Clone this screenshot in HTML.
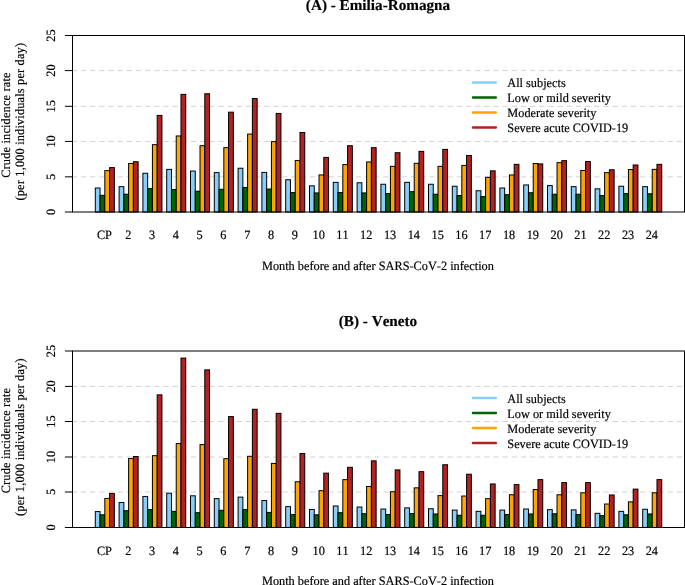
<!DOCTYPE html>
<html><head><meta charset="utf-8"><title>Crude incidence rate</title>
<style>
html,body{margin:0;padding:0;background:#fff;overflow:hidden}
svg{display:block;will-change:transform}
text{font-family:"Liberation Serif",serif;fill:#000;font-kerning:none;text-rendering:geometricPrecision;stroke:#000;stroke-width:0.18px}
</style></head>
<body>
<svg width="685" height="585" viewBox="0 0 685 585">
<rect x="0" y="0" width="685" height="585" fill="#fff"/>
<line x1="71.70" y1="176.85" x2="684.50" y2="176.85" stroke="#d3d3d3" stroke-width="1" stroke-dasharray="5.3 3.867"/>
<line x1="71.70" y1="141.40" x2="684.50" y2="141.40" stroke="#d3d3d3" stroke-width="1" stroke-dasharray="5.3 3.867"/>
<line x1="71.70" y1="106.30" x2="684.50" y2="106.30" stroke="#d3d3d3" stroke-width="1" stroke-dasharray="5.3 3.867"/>
<line x1="71.70" y1="70.60" x2="684.50" y2="70.60" stroke="#d3d3d3" stroke-width="1" stroke-dasharray="5.3 3.867"/>
<rect x="95.30" y="188.00" width="4.76" height="24.00" fill="#87CEFA" stroke="#000" stroke-width="1"/>
<rect x="100.06" y="195.34" width="4.76" height="16.66" fill="#006400" stroke="#000" stroke-width="1"/>
<rect x="104.82" y="170.63" width="4.76" height="41.37" fill="#FFA500" stroke="#000" stroke-width="1"/>
<rect x="109.58" y="167.59" width="4.76" height="44.41" fill="#B22222" stroke="#000" stroke-width="1"/>
<rect x="119.10" y="186.65" width="4.76" height="25.35" fill="#87CEFA" stroke="#000" stroke-width="1"/>
<rect x="123.86" y="194.21" width="4.76" height="17.79" fill="#006400" stroke="#000" stroke-width="1"/>
<rect x="128.62" y="163.50" width="4.76" height="48.50" fill="#FFA500" stroke="#000" stroke-width="1"/>
<rect x="133.38" y="161.73" width="4.76" height="50.27" fill="#B22222" stroke="#000" stroke-width="1"/>
<rect x="142.90" y="173.24" width="4.76" height="38.76" fill="#87CEFA" stroke="#000" stroke-width="1"/>
<rect x="147.66" y="188.63" width="4.76" height="23.37" fill="#006400" stroke="#000" stroke-width="1"/>
<rect x="152.42" y="144.65" width="4.76" height="67.35" fill="#FFA500" stroke="#000" stroke-width="1"/>
<rect x="157.18" y="115.42" width="4.76" height="96.58" fill="#B22222" stroke="#000" stroke-width="1"/>
<rect x="166.70" y="169.36" width="4.76" height="42.64" fill="#87CEFA" stroke="#000" stroke-width="1"/>
<rect x="171.46" y="189.48" width="4.76" height="22.52" fill="#006400" stroke="#000" stroke-width="1"/>
<rect x="176.22" y="135.96" width="4.76" height="76.04" fill="#FFA500" stroke="#000" stroke-width="1"/>
<rect x="180.98" y="94.38" width="4.76" height="117.62" fill="#B22222" stroke="#000" stroke-width="1"/>
<rect x="190.50" y="171.05" width="4.76" height="40.95" fill="#87CEFA" stroke="#000" stroke-width="1"/>
<rect x="195.26" y="191.24" width="4.76" height="20.76" fill="#006400" stroke="#000" stroke-width="1"/>
<rect x="200.02" y="145.71" width="4.76" height="66.29" fill="#FFA500" stroke="#000" stroke-width="1"/>
<rect x="204.78" y="93.75" width="4.76" height="118.25" fill="#B22222" stroke="#000" stroke-width="1"/>
<rect x="214.30" y="172.61" width="4.76" height="39.39" fill="#87CEFA" stroke="#000" stroke-width="1"/>
<rect x="219.06" y="189.27" width="4.76" height="22.73" fill="#006400" stroke="#000" stroke-width="1"/>
<rect x="223.82" y="147.68" width="4.76" height="64.32" fill="#FFA500" stroke="#000" stroke-width="1"/>
<rect x="228.58" y="112.17" width="4.76" height="99.83" fill="#B22222" stroke="#000" stroke-width="1"/>
<rect x="238.10" y="168.23" width="4.76" height="43.77" fill="#87CEFA" stroke="#000" stroke-width="1"/>
<rect x="242.86" y="187.50" width="4.76" height="24.50" fill="#006400" stroke="#000" stroke-width="1"/>
<rect x="247.62" y="134.06" width="4.76" height="77.94" fill="#FFA500" stroke="#000" stroke-width="1"/>
<rect x="252.38" y="98.55" width="4.76" height="113.45" fill="#B22222" stroke="#000" stroke-width="1"/>
<rect x="261.90" y="172.39" width="4.76" height="39.61" fill="#87CEFA" stroke="#000" stroke-width="1"/>
<rect x="266.66" y="189.06" width="4.76" height="22.95" fill="#006400" stroke="#000" stroke-width="1"/>
<rect x="271.42" y="141.61" width="4.76" height="70.39" fill="#FFA500" stroke="#000" stroke-width="1"/>
<rect x="276.18" y="113.44" width="4.76" height="98.56" fill="#B22222" stroke="#000" stroke-width="1"/>
<rect x="285.70" y="179.74" width="4.76" height="32.26" fill="#87CEFA" stroke="#000" stroke-width="1"/>
<rect x="290.46" y="192.51" width="4.76" height="19.49" fill="#006400" stroke="#000" stroke-width="1"/>
<rect x="295.22" y="160.46" width="4.76" height="51.54" fill="#FFA500" stroke="#000" stroke-width="1"/>
<rect x="299.98" y="132.50" width="4.76" height="79.50" fill="#B22222" stroke="#000" stroke-width="1"/>
<rect x="309.50" y="185.81" width="4.76" height="26.19" fill="#87CEFA" stroke="#000" stroke-width="1"/>
<rect x="314.26" y="192.94" width="4.76" height="19.06" fill="#006400" stroke="#000" stroke-width="1"/>
<rect x="319.02" y="174.94" width="4.76" height="37.06" fill="#FFA500" stroke="#000" stroke-width="1"/>
<rect x="323.78" y="157.43" width="4.76" height="54.57" fill="#B22222" stroke="#000" stroke-width="1"/>
<rect x="333.30" y="182.35" width="4.76" height="29.65" fill="#87CEFA" stroke="#000" stroke-width="1"/>
<rect x="338.06" y="192.51" width="4.76" height="19.49" fill="#006400" stroke="#000" stroke-width="1"/>
<rect x="342.82" y="164.56" width="4.76" height="47.44" fill="#FFA500" stroke="#000" stroke-width="1"/>
<rect x="347.58" y="145.71" width="4.76" height="66.29" fill="#B22222" stroke="#000" stroke-width="1"/>
<rect x="357.10" y="182.77" width="4.76" height="29.23" fill="#87CEFA" stroke="#000" stroke-width="1"/>
<rect x="361.86" y="192.94" width="4.76" height="19.06" fill="#006400" stroke="#000" stroke-width="1"/>
<rect x="366.62" y="161.94" width="4.76" height="50.06" fill="#FFA500" stroke="#000" stroke-width="1"/>
<rect x="371.38" y="147.68" width="4.76" height="64.32" fill="#B22222" stroke="#000" stroke-width="1"/>
<rect x="380.90" y="184.25" width="4.76" height="27.75" fill="#87CEFA" stroke="#000" stroke-width="1"/>
<rect x="385.66" y="193.57" width="4.76" height="18.43" fill="#006400" stroke="#000" stroke-width="1"/>
<rect x="390.42" y="166.32" width="4.76" height="45.68" fill="#FFA500" stroke="#000" stroke-width="1"/>
<rect x="395.18" y="152.70" width="4.76" height="59.30" fill="#B22222" stroke="#000" stroke-width="1"/>
<rect x="404.70" y="182.35" width="4.76" height="29.65" fill="#87CEFA" stroke="#000" stroke-width="1"/>
<rect x="409.46" y="191.67" width="4.76" height="20.33" fill="#006400" stroke="#000" stroke-width="1"/>
<rect x="414.22" y="163.29" width="4.76" height="48.71" fill="#FFA500" stroke="#000" stroke-width="1"/>
<rect x="418.98" y="151.35" width="4.76" height="60.65" fill="#B22222" stroke="#000" stroke-width="1"/>
<rect x="428.50" y="184.25" width="4.76" height="27.75" fill="#87CEFA" stroke="#000" stroke-width="1"/>
<rect x="433.26" y="194.21" width="4.76" height="17.79" fill="#006400" stroke="#000" stroke-width="1"/>
<rect x="438.02" y="166.32" width="4.76" height="45.68" fill="#FFA500" stroke="#000" stroke-width="1"/>
<rect x="442.78" y="149.38" width="4.76" height="62.62" fill="#B22222" stroke="#000" stroke-width="1"/>
<rect x="452.30" y="186.23" width="4.76" height="25.77" fill="#87CEFA" stroke="#000" stroke-width="1"/>
<rect x="457.06" y="195.55" width="4.76" height="16.45" fill="#006400" stroke="#000" stroke-width="1"/>
<rect x="461.82" y="165.40" width="4.76" height="46.60" fill="#FFA500" stroke="#000" stroke-width="1"/>
<rect x="466.58" y="155.45" width="4.76" height="56.55" fill="#B22222" stroke="#000" stroke-width="1"/>
<rect x="476.10" y="190.75" width="4.76" height="21.25" fill="#87CEFA" stroke="#000" stroke-width="1"/>
<rect x="480.86" y="196.61" width="4.76" height="15.39" fill="#006400" stroke="#000" stroke-width="1"/>
<rect x="485.62" y="177.34" width="4.76" height="34.66" fill="#FFA500" stroke="#000" stroke-width="1"/>
<rect x="490.38" y="170.84" width="4.76" height="41.16" fill="#B22222" stroke="#000" stroke-width="1"/>
<rect x="499.90" y="188.00" width="4.76" height="24.00" fill="#87CEFA" stroke="#000" stroke-width="1"/>
<rect x="504.66" y="194.70" width="4.76" height="17.30" fill="#006400" stroke="#000" stroke-width="1"/>
<rect x="509.42" y="174.94" width="4.76" height="37.06" fill="#FFA500" stroke="#000" stroke-width="1"/>
<rect x="514.18" y="164.34" width="4.76" height="47.65" fill="#B22222" stroke="#000" stroke-width="1"/>
<rect x="523.70" y="184.96" width="4.76" height="27.04" fill="#87CEFA" stroke="#000" stroke-width="1"/>
<rect x="528.46" y="192.73" width="4.76" height="19.27" fill="#006400" stroke="#000" stroke-width="1"/>
<rect x="533.22" y="163.50" width="4.76" height="48.50" fill="#FFA500" stroke="#000" stroke-width="1"/>
<rect x="537.98" y="163.92" width="4.76" height="48.08" fill="#B22222" stroke="#000" stroke-width="1"/>
<rect x="547.50" y="185.60" width="4.76" height="26.40" fill="#87CEFA" stroke="#000" stroke-width="1"/>
<rect x="552.26" y="194.21" width="4.76" height="17.79" fill="#006400" stroke="#000" stroke-width="1"/>
<rect x="557.02" y="162.65" width="4.76" height="49.35" fill="#FFA500" stroke="#000" stroke-width="1"/>
<rect x="561.78" y="160.67" width="4.76" height="51.33" fill="#B22222" stroke="#000" stroke-width="1"/>
<rect x="571.30" y="186.65" width="4.76" height="25.35" fill="#87CEFA" stroke="#000" stroke-width="1"/>
<rect x="576.06" y="194.21" width="4.76" height="17.79" fill="#006400" stroke="#000" stroke-width="1"/>
<rect x="580.82" y="170.42" width="4.76" height="41.58" fill="#FFA500" stroke="#000" stroke-width="1"/>
<rect x="585.58" y="161.52" width="4.76" height="50.48" fill="#B22222" stroke="#000" stroke-width="1"/>
<rect x="595.10" y="188.84" width="4.76" height="23.16" fill="#87CEFA" stroke="#000" stroke-width="1"/>
<rect x="599.86" y="195.55" width="4.76" height="16.45" fill="#006400" stroke="#000" stroke-width="1"/>
<rect x="604.62" y="172.61" width="4.76" height="39.39" fill="#FFA500" stroke="#000" stroke-width="1"/>
<rect x="609.38" y="169.78" width="4.76" height="42.22" fill="#B22222" stroke="#000" stroke-width="1"/>
<rect x="618.90" y="186.23" width="4.76" height="25.77" fill="#87CEFA" stroke="#000" stroke-width="1"/>
<rect x="623.66" y="193.57" width="4.76" height="18.43" fill="#006400" stroke="#000" stroke-width="1"/>
<rect x="628.42" y="169.57" width="4.76" height="42.43" fill="#FFA500" stroke="#000" stroke-width="1"/>
<rect x="633.18" y="164.98" width="4.76" height="47.02" fill="#B22222" stroke="#000" stroke-width="1"/>
<rect x="642.70" y="186.65" width="4.76" height="25.35" fill="#87CEFA" stroke="#000" stroke-width="1"/>
<rect x="647.46" y="193.79" width="4.76" height="18.21" fill="#006400" stroke="#000" stroke-width="1"/>
<rect x="652.22" y="169.36" width="4.76" height="42.64" fill="#FFA500" stroke="#000" stroke-width="1"/>
<rect x="656.98" y="164.34" width="4.76" height="47.65" fill="#B22222" stroke="#000" stroke-width="1"/>
<rect x="72.50" y="35.50" width="612.00" height="176.50" fill="none" stroke="#000" stroke-width="1"/>
<line x1="64.90" y1="212.00" x2="72.50" y2="212.00" stroke="#000" stroke-width="1"/>
<text transform="translate(55.0,212.00) rotate(-90) scale(1,1.035)" text-anchor="middle" font-size="12.3">0</text>
<line x1="64.90" y1="176.85" x2="72.50" y2="176.85" stroke="#000" stroke-width="1"/>
<text transform="translate(55.0,176.85) rotate(-90) scale(1,1.035)" text-anchor="middle" font-size="12.3">5</text>
<line x1="64.90" y1="141.40" x2="72.50" y2="141.40" stroke="#000" stroke-width="1"/>
<text transform="translate(55.0,141.40) rotate(-90) scale(1,1.035)" text-anchor="middle" font-size="12.3">10</text>
<line x1="64.90" y1="106.30" x2="72.50" y2="106.30" stroke="#000" stroke-width="1"/>
<text transform="translate(55.0,106.30) rotate(-90) scale(1,1.035)" text-anchor="middle" font-size="12.3">15</text>
<line x1="64.90" y1="70.60" x2="72.50" y2="70.60" stroke="#000" stroke-width="1"/>
<text transform="translate(55.0,70.60) rotate(-90) scale(1,1.035)" text-anchor="middle" font-size="12.3">20</text>
<line x1="64.90" y1="35.50" x2="72.50" y2="35.50" stroke="#000" stroke-width="1"/>
<text transform="translate(55.0,35.50) rotate(-90) scale(1,1.035)" text-anchor="middle" font-size="12.3">25</text>
<text transform="translate(104.42,239.30) scale(1,1.035)" text-anchor="middle" font-size="12.3">CP</text>
<text transform="translate(128.22,239.30) scale(1,1.035)" text-anchor="middle" font-size="12.3">2</text>
<text transform="translate(152.02,239.30) scale(1,1.035)" text-anchor="middle" font-size="12.3">3</text>
<text transform="translate(175.82,239.30) scale(1,1.035)" text-anchor="middle" font-size="12.3">4</text>
<text transform="translate(199.62,239.30) scale(1,1.035)" text-anchor="middle" font-size="12.3">5</text>
<text transform="translate(223.42,239.30) scale(1,1.035)" text-anchor="middle" font-size="12.3">6</text>
<text transform="translate(247.22,239.30) scale(1,1.035)" text-anchor="middle" font-size="12.3">7</text>
<text transform="translate(271.02,239.30) scale(1,1.035)" text-anchor="middle" font-size="12.3">8</text>
<text transform="translate(294.82,239.30) scale(1,1.035)" text-anchor="middle" font-size="12.3">9</text>
<text transform="translate(318.62,239.30) scale(1,1.035)" text-anchor="middle" font-size="12.3">10</text>
<text transform="translate(342.42,239.30) scale(1,1.035)" text-anchor="middle" font-size="12.3">11</text>
<text transform="translate(366.22,239.30) scale(1,1.035)" text-anchor="middle" font-size="12.3">12</text>
<text transform="translate(390.02,239.30) scale(1,1.035)" text-anchor="middle" font-size="12.3">13</text>
<text transform="translate(413.82,239.30) scale(1,1.035)" text-anchor="middle" font-size="12.3">14</text>
<text transform="translate(437.62,239.30) scale(1,1.035)" text-anchor="middle" font-size="12.3">15</text>
<text transform="translate(461.42,239.30) scale(1,1.035)" text-anchor="middle" font-size="12.3">16</text>
<text transform="translate(485.22,239.30) scale(1,1.035)" text-anchor="middle" font-size="12.3">17</text>
<text transform="translate(509.02,239.30) scale(1,1.035)" text-anchor="middle" font-size="12.3">18</text>
<text transform="translate(532.82,239.30) scale(1,1.035)" text-anchor="middle" font-size="12.3">19</text>
<text transform="translate(556.62,239.30) scale(1,1.035)" text-anchor="middle" font-size="12.3">20</text>
<text transform="translate(580.42,239.30) scale(1,1.035)" text-anchor="middle" font-size="12.3">21</text>
<text transform="translate(604.22,239.30) scale(1,1.035)" text-anchor="middle" font-size="12.3">22</text>
<text transform="translate(628.02,239.30) scale(1,1.035)" text-anchor="middle" font-size="12.3">23</text>
<text transform="translate(651.82,239.30) scale(1,1.035)" text-anchor="middle" font-size="12.3">24</text>
<text transform="translate(377.90,269.90) scale(1,1.035)" text-anchor="middle" font-size="12.3">Month before and after SARS-CoV-2 infection</text>
<text transform="translate(9.9,125.15) rotate(-90) scale(1,1.035)" text-anchor="middle" font-size="12.3" textLength="105.4" lengthAdjust="spacing">Crude incidence rate</text>
<text transform="translate(24.1,121.75) rotate(-90) scale(1,1.035)" text-anchor="middle" font-size="12.3" textLength="157.5" lengthAdjust="spacing">(per 1,000 individuals per day)</text>
<text x="378.00" y="10.10" text-anchor="middle" font-size="15.2" font-weight="bold">(A) - Emilia-Romagna</text>
<line x1="473.0" y1="82.40" x2="495.8" y2="82.40" stroke="#87CEFA" stroke-width="2.5" stroke-linecap="round"/>
<text transform="translate(507.3,87.00) scale(1,1.035)" font-size="12.3">All subjects</text>
<line x1="473.0" y1="97.40" x2="495.8" y2="97.40" stroke="#006400" stroke-width="2.5" stroke-linecap="round"/>
<text transform="translate(507.3,102.00) scale(1,1.035)" font-size="12.3">Low or mild severity</text>
<line x1="473.0" y1="112.40" x2="495.8" y2="112.40" stroke="#FFA500" stroke-width="2.5" stroke-linecap="round"/>
<text transform="translate(507.3,117.00) scale(1,1.035)" font-size="12.3">Moderate severity</text>
<line x1="473.0" y1="127.40" x2="495.8" y2="127.40" stroke="#B22222" stroke-width="2.5" stroke-linecap="round"/>
<text transform="translate(507.3,132.00) scale(1,1.035)" font-size="12.3">Severe acute COVID-19</text>
<line x1="71.70" y1="492.00" x2="684.50" y2="492.00" stroke="#d3d3d3" stroke-width="1" stroke-dasharray="5.3 3.867"/>
<line x1="71.70" y1="457.00" x2="684.50" y2="457.00" stroke="#d3d3d3" stroke-width="1" stroke-dasharray="5.3 3.867"/>
<line x1="71.70" y1="421.50" x2="684.50" y2="421.50" stroke="#d3d3d3" stroke-width="1" stroke-dasharray="5.3 3.867"/>
<line x1="71.70" y1="386.40" x2="684.50" y2="386.40" stroke="#d3d3d3" stroke-width="1" stroke-dasharray="5.3 3.867"/>
<rect x="95.30" y="511.57" width="4.76" height="15.88" fill="#87CEFA" stroke="#000" stroke-width="1"/>
<rect x="100.06" y="514.81" width="4.76" height="12.64" fill="#006400" stroke="#000" stroke-width="1"/>
<rect x="104.82" y="498.43" width="4.76" height="29.02" fill="#FFA500" stroke="#000" stroke-width="1"/>
<rect x="109.58" y="493.42" width="4.76" height="34.03" fill="#B22222" stroke="#000" stroke-width="1"/>
<rect x="119.10" y="502.53" width="4.76" height="24.92" fill="#87CEFA" stroke="#000" stroke-width="1"/>
<rect x="123.86" y="510.72" width="4.76" height="16.73" fill="#006400" stroke="#000" stroke-width="1"/>
<rect x="128.62" y="458.47" width="4.76" height="68.98" fill="#FFA500" stroke="#000" stroke-width="1"/>
<rect x="133.38" y="456.50" width="4.76" height="70.95" fill="#B22222" stroke="#000" stroke-width="1"/>
<rect x="142.90" y="496.46" width="4.76" height="30.99" fill="#87CEFA" stroke="#000" stroke-width="1"/>
<rect x="147.66" y="509.66" width="4.76" height="17.79" fill="#006400" stroke="#000" stroke-width="1"/>
<rect x="152.42" y="455.65" width="4.76" height="71.80" fill="#FFA500" stroke="#000" stroke-width="1"/>
<rect x="157.18" y="394.86" width="4.76" height="132.59" fill="#B22222" stroke="#000" stroke-width="1"/>
<rect x="166.70" y="493.21" width="4.76" height="34.24" fill="#87CEFA" stroke="#000" stroke-width="1"/>
<rect x="171.46" y="511.35" width="4.76" height="16.10" fill="#006400" stroke="#000" stroke-width="1"/>
<rect x="176.22" y="443.58" width="4.76" height="83.87" fill="#FFA500" stroke="#000" stroke-width="1"/>
<rect x="180.98" y="358.08" width="4.76" height="169.37" fill="#B22222" stroke="#000" stroke-width="1"/>
<rect x="190.50" y="495.82" width="4.76" height="31.63" fill="#87CEFA" stroke="#000" stroke-width="1"/>
<rect x="195.26" y="512.69" width="4.76" height="14.76" fill="#006400" stroke="#000" stroke-width="1"/>
<rect x="200.02" y="444.64" width="4.76" height="82.81" fill="#FFA500" stroke="#000" stroke-width="1"/>
<rect x="204.78" y="369.87" width="4.76" height="157.58" fill="#B22222" stroke="#000" stroke-width="1"/>
<rect x="214.30" y="498.65" width="4.76" height="28.80" fill="#87CEFA" stroke="#000" stroke-width="1"/>
<rect x="219.06" y="510.29" width="4.76" height="17.16" fill="#006400" stroke="#000" stroke-width="1"/>
<rect x="223.82" y="458.69" width="4.76" height="68.76" fill="#FFA500" stroke="#000" stroke-width="1"/>
<rect x="228.58" y="416.61" width="4.76" height="110.84" fill="#B22222" stroke="#000" stroke-width="1"/>
<rect x="238.10" y="497.09" width="4.76" height="30.36" fill="#87CEFA" stroke="#000" stroke-width="1"/>
<rect x="242.86" y="509.66" width="4.76" height="17.79" fill="#006400" stroke="#000" stroke-width="1"/>
<rect x="247.62" y="456.29" width="4.76" height="71.16" fill="#FFA500" stroke="#000" stroke-width="1"/>
<rect x="252.38" y="409.27" width="4.76" height="118.18" fill="#B22222" stroke="#000" stroke-width="1"/>
<rect x="261.90" y="500.55" width="4.76" height="26.90" fill="#87CEFA" stroke="#000" stroke-width="1"/>
<rect x="266.66" y="512.41" width="4.76" height="15.04" fill="#006400" stroke="#000" stroke-width="1"/>
<rect x="271.42" y="463.42" width="4.76" height="64.03" fill="#FFA500" stroke="#000" stroke-width="1"/>
<rect x="276.18" y="413.36" width="4.76" height="114.09" fill="#B22222" stroke="#000" stroke-width="1"/>
<rect x="285.70" y="506.62" width="4.76" height="20.83" fill="#87CEFA" stroke="#000" stroke-width="1"/>
<rect x="290.46" y="514.60" width="4.76" height="12.85" fill="#006400" stroke="#000" stroke-width="1"/>
<rect x="295.22" y="481.77" width="4.76" height="45.68" fill="#FFA500" stroke="#000" stroke-width="1"/>
<rect x="299.98" y="453.53" width="4.76" height="73.92" fill="#B22222" stroke="#000" stroke-width="1"/>
<rect x="309.50" y="509.45" width="4.76" height="18.00" fill="#87CEFA" stroke="#000" stroke-width="1"/>
<rect x="314.26" y="514.81" width="4.76" height="12.64" fill="#006400" stroke="#000" stroke-width="1"/>
<rect x="319.02" y="490.67" width="4.76" height="36.78" fill="#FFA500" stroke="#000" stroke-width="1"/>
<rect x="323.78" y="473.16" width="4.76" height="54.29" fill="#B22222" stroke="#000" stroke-width="1"/>
<rect x="333.30" y="505.99" width="4.76" height="21.46" fill="#87CEFA" stroke="#000" stroke-width="1"/>
<rect x="338.06" y="512.69" width="4.76" height="14.76" fill="#006400" stroke="#000" stroke-width="1"/>
<rect x="342.82" y="479.65" width="4.76" height="47.80" fill="#FFA500" stroke="#000" stroke-width="1"/>
<rect x="347.58" y="467.30" width="4.76" height="60.15" fill="#B22222" stroke="#000" stroke-width="1"/>
<rect x="357.10" y="507.05" width="4.76" height="20.40" fill="#87CEFA" stroke="#000" stroke-width="1"/>
<rect x="361.86" y="513.75" width="4.76" height="13.70" fill="#006400" stroke="#000" stroke-width="1"/>
<rect x="366.62" y="486.50" width="4.76" height="40.95" fill="#FFA500" stroke="#000" stroke-width="1"/>
<rect x="371.38" y="460.87" width="4.76" height="66.58" fill="#B22222" stroke="#000" stroke-width="1"/>
<rect x="380.90" y="509.02" width="4.76" height="18.43" fill="#87CEFA" stroke="#000" stroke-width="1"/>
<rect x="385.66" y="514.60" width="4.76" height="12.85" fill="#006400" stroke="#000" stroke-width="1"/>
<rect x="390.42" y="491.73" width="4.76" height="35.72" fill="#FFA500" stroke="#000" stroke-width="1"/>
<rect x="395.18" y="469.91" width="4.76" height="57.54" fill="#B22222" stroke="#000" stroke-width="1"/>
<rect x="404.70" y="507.89" width="4.76" height="19.56" fill="#87CEFA" stroke="#000" stroke-width="1"/>
<rect x="409.46" y="513.54" width="4.76" height="13.91" fill="#006400" stroke="#000" stroke-width="1"/>
<rect x="414.22" y="487.84" width="4.76" height="39.61" fill="#FFA500" stroke="#000" stroke-width="1"/>
<rect x="418.98" y="471.68" width="4.76" height="55.77" fill="#B22222" stroke="#000" stroke-width="1"/>
<rect x="428.50" y="508.74" width="4.76" height="18.71" fill="#87CEFA" stroke="#000" stroke-width="1"/>
<rect x="433.26" y="513.97" width="4.76" height="13.48" fill="#006400" stroke="#000" stroke-width="1"/>
<rect x="438.02" y="495.61" width="4.76" height="31.84" fill="#FFA500" stroke="#000" stroke-width="1"/>
<rect x="442.78" y="464.76" width="4.76" height="62.69" fill="#B22222" stroke="#000" stroke-width="1"/>
<rect x="452.30" y="510.08" width="4.76" height="17.37" fill="#87CEFA" stroke="#000" stroke-width="1"/>
<rect x="457.06" y="515.24" width="4.76" height="12.21" fill="#006400" stroke="#000" stroke-width="1"/>
<rect x="461.82" y="496.03" width="4.76" height="31.42" fill="#FFA500" stroke="#000" stroke-width="1"/>
<rect x="466.58" y="474.22" width="4.76" height="53.23" fill="#B22222" stroke="#000" stroke-width="1"/>
<rect x="476.10" y="511.35" width="4.76" height="16.10" fill="#87CEFA" stroke="#000" stroke-width="1"/>
<rect x="480.86" y="515.24" width="4.76" height="12.21" fill="#006400" stroke="#000" stroke-width="1"/>
<rect x="485.62" y="498.65" width="4.76" height="28.80" fill="#FFA500" stroke="#000" stroke-width="1"/>
<rect x="490.38" y="483.96" width="4.76" height="43.49" fill="#B22222" stroke="#000" stroke-width="1"/>
<rect x="499.90" y="510.08" width="4.76" height="17.37" fill="#87CEFA" stroke="#000" stroke-width="1"/>
<rect x="504.66" y="514.60" width="4.76" height="12.85" fill="#006400" stroke="#000" stroke-width="1"/>
<rect x="509.42" y="494.76" width="4.76" height="32.69" fill="#FFA500" stroke="#000" stroke-width="1"/>
<rect x="514.18" y="484.60" width="4.76" height="42.85" fill="#B22222" stroke="#000" stroke-width="1"/>
<rect x="523.70" y="509.02" width="4.76" height="18.43" fill="#87CEFA" stroke="#000" stroke-width="1"/>
<rect x="528.46" y="513.97" width="4.76" height="13.48" fill="#006400" stroke="#000" stroke-width="1"/>
<rect x="533.22" y="489.54" width="4.76" height="37.91" fill="#FFA500" stroke="#000" stroke-width="1"/>
<rect x="537.98" y="479.65" width="4.76" height="47.80" fill="#B22222" stroke="#000" stroke-width="1"/>
<rect x="547.50" y="509.66" width="4.76" height="17.79" fill="#87CEFA" stroke="#000" stroke-width="1"/>
<rect x="552.26" y="513.75" width="4.76" height="13.70" fill="#006400" stroke="#000" stroke-width="1"/>
<rect x="557.02" y="494.76" width="4.76" height="32.69" fill="#FFA500" stroke="#000" stroke-width="1"/>
<rect x="561.78" y="482.62" width="4.76" height="44.83" fill="#B22222" stroke="#000" stroke-width="1"/>
<rect x="571.30" y="509.87" width="4.76" height="17.58" fill="#87CEFA" stroke="#000" stroke-width="1"/>
<rect x="576.06" y="514.60" width="4.76" height="12.85" fill="#006400" stroke="#000" stroke-width="1"/>
<rect x="580.82" y="492.79" width="4.76" height="34.66" fill="#FFA500" stroke="#000" stroke-width="1"/>
<rect x="585.58" y="482.62" width="4.76" height="44.83" fill="#B22222" stroke="#000" stroke-width="1"/>
<rect x="595.10" y="513.33" width="4.76" height="14.12" fill="#87CEFA" stroke="#000" stroke-width="1"/>
<rect x="599.86" y="515.66" width="4.76" height="11.79" fill="#006400" stroke="#000" stroke-width="1"/>
<rect x="604.62" y="504.01" width="4.76" height="23.44" fill="#FFA500" stroke="#000" stroke-width="1"/>
<rect x="609.38" y="494.97" width="4.76" height="32.48" fill="#B22222" stroke="#000" stroke-width="1"/>
<rect x="618.90" y="511.35" width="4.76" height="16.10" fill="#87CEFA" stroke="#000" stroke-width="1"/>
<rect x="623.66" y="514.81" width="4.76" height="12.64" fill="#006400" stroke="#000" stroke-width="1"/>
<rect x="628.42" y="501.89" width="4.76" height="25.56" fill="#FFA500" stroke="#000" stroke-width="1"/>
<rect x="633.18" y="489.11" width="4.76" height="38.34" fill="#B22222" stroke="#000" stroke-width="1"/>
<rect x="642.70" y="509.24" width="4.76" height="18.21" fill="#87CEFA" stroke="#000" stroke-width="1"/>
<rect x="647.46" y="513.97" width="4.76" height="13.48" fill="#006400" stroke="#000" stroke-width="1"/>
<rect x="652.22" y="492.79" width="4.76" height="34.66" fill="#FFA500" stroke="#000" stroke-width="1"/>
<rect x="656.98" y="479.65" width="4.76" height="47.80" fill="#B22222" stroke="#000" stroke-width="1"/>
<rect x="72.50" y="351.00" width="612.00" height="176.50" fill="none" stroke="#000" stroke-width="1"/>
<line x1="64.90" y1="527.50" x2="72.50" y2="527.50" stroke="#000" stroke-width="1"/>
<text transform="translate(55.0,527.50) rotate(-90) scale(1,1.035)" text-anchor="middle" font-size="12.3">0</text>
<line x1="64.90" y1="492.00" x2="72.50" y2="492.00" stroke="#000" stroke-width="1"/>
<text transform="translate(55.0,492.00) rotate(-90) scale(1,1.035)" text-anchor="middle" font-size="12.3">5</text>
<line x1="64.90" y1="457.00" x2="72.50" y2="457.00" stroke="#000" stroke-width="1"/>
<text transform="translate(55.0,457.00) rotate(-90) scale(1,1.035)" text-anchor="middle" font-size="12.3">10</text>
<line x1="64.90" y1="421.50" x2="72.50" y2="421.50" stroke="#000" stroke-width="1"/>
<text transform="translate(55.0,421.50) rotate(-90) scale(1,1.035)" text-anchor="middle" font-size="12.3">15</text>
<line x1="64.90" y1="386.40" x2="72.50" y2="386.40" stroke="#000" stroke-width="1"/>
<text transform="translate(55.0,386.40) rotate(-90) scale(1,1.035)" text-anchor="middle" font-size="12.3">20</text>
<line x1="64.90" y1="351.00" x2="72.50" y2="351.00" stroke="#000" stroke-width="1"/>
<text transform="translate(55.0,351.00) rotate(-90) scale(1,1.035)" text-anchor="middle" font-size="12.3">25</text>
<text transform="translate(104.42,554.75) scale(1,1.035)" text-anchor="middle" font-size="12.3">CP</text>
<text transform="translate(128.22,554.75) scale(1,1.035)" text-anchor="middle" font-size="12.3">2</text>
<text transform="translate(152.02,554.75) scale(1,1.035)" text-anchor="middle" font-size="12.3">3</text>
<text transform="translate(175.82,554.75) scale(1,1.035)" text-anchor="middle" font-size="12.3">4</text>
<text transform="translate(199.62,554.75) scale(1,1.035)" text-anchor="middle" font-size="12.3">5</text>
<text transform="translate(223.42,554.75) scale(1,1.035)" text-anchor="middle" font-size="12.3">6</text>
<text transform="translate(247.22,554.75) scale(1,1.035)" text-anchor="middle" font-size="12.3">7</text>
<text transform="translate(271.02,554.75) scale(1,1.035)" text-anchor="middle" font-size="12.3">8</text>
<text transform="translate(294.82,554.75) scale(1,1.035)" text-anchor="middle" font-size="12.3">9</text>
<text transform="translate(318.62,554.75) scale(1,1.035)" text-anchor="middle" font-size="12.3">10</text>
<text transform="translate(342.42,554.75) scale(1,1.035)" text-anchor="middle" font-size="12.3">11</text>
<text transform="translate(366.22,554.75) scale(1,1.035)" text-anchor="middle" font-size="12.3">12</text>
<text transform="translate(390.02,554.75) scale(1,1.035)" text-anchor="middle" font-size="12.3">13</text>
<text transform="translate(413.82,554.75) scale(1,1.035)" text-anchor="middle" font-size="12.3">14</text>
<text transform="translate(437.62,554.75) scale(1,1.035)" text-anchor="middle" font-size="12.3">15</text>
<text transform="translate(461.42,554.75) scale(1,1.035)" text-anchor="middle" font-size="12.3">16</text>
<text transform="translate(485.22,554.75) scale(1,1.035)" text-anchor="middle" font-size="12.3">17</text>
<text transform="translate(509.02,554.75) scale(1,1.035)" text-anchor="middle" font-size="12.3">18</text>
<text transform="translate(532.82,554.75) scale(1,1.035)" text-anchor="middle" font-size="12.3">19</text>
<text transform="translate(556.62,554.75) scale(1,1.035)" text-anchor="middle" font-size="12.3">20</text>
<text transform="translate(580.42,554.75) scale(1,1.035)" text-anchor="middle" font-size="12.3">21</text>
<text transform="translate(604.22,554.75) scale(1,1.035)" text-anchor="middle" font-size="12.3">22</text>
<text transform="translate(628.02,554.75) scale(1,1.035)" text-anchor="middle" font-size="12.3">23</text>
<text transform="translate(651.82,554.75) scale(1,1.035)" text-anchor="middle" font-size="12.3">24</text>
<text transform="translate(377.90,584.55) scale(1,1.035)" text-anchor="middle" font-size="12.3">Month before and after SARS-CoV-2 infection</text>
<text transform="translate(9.9,440.62) rotate(-90) scale(1,1.035)" text-anchor="middle" font-size="12.3" textLength="105.4" lengthAdjust="spacing">Crude incidence rate</text>
<text transform="translate(24.1,437.23) rotate(-90) scale(1,1.035)" text-anchor="middle" font-size="12.3" textLength="157.5" lengthAdjust="spacing">(per 1,000 individuals per day)</text>
<text x="378.00" y="325.60" text-anchor="middle" font-size="15.2" font-weight="bold">(B) - Veneto</text>
<line x1="473.0" y1="397.90" x2="495.8" y2="397.90" stroke="#87CEFA" stroke-width="2.5" stroke-linecap="round"/>
<text transform="translate(507.3,403.00) scale(1,1.035)" font-size="12.3">All subjects</text>
<line x1="473.0" y1="412.90" x2="495.8" y2="412.90" stroke="#006400" stroke-width="2.5" stroke-linecap="round"/>
<text transform="translate(507.3,418.00) scale(1,1.035)" font-size="12.3">Low or mild severity</text>
<line x1="473.0" y1="427.90" x2="495.8" y2="427.90" stroke="#FFA500" stroke-width="2.5" stroke-linecap="round"/>
<text transform="translate(507.3,433.00) scale(1,1.035)" font-size="12.3">Moderate severity</text>
<line x1="473.0" y1="442.90" x2="495.8" y2="442.90" stroke="#B22222" stroke-width="2.5" stroke-linecap="round"/>
<text transform="translate(507.3,448.00) scale(1,1.035)" font-size="12.3">Severe acute COVID-19</text>
</svg>
</body></html>
